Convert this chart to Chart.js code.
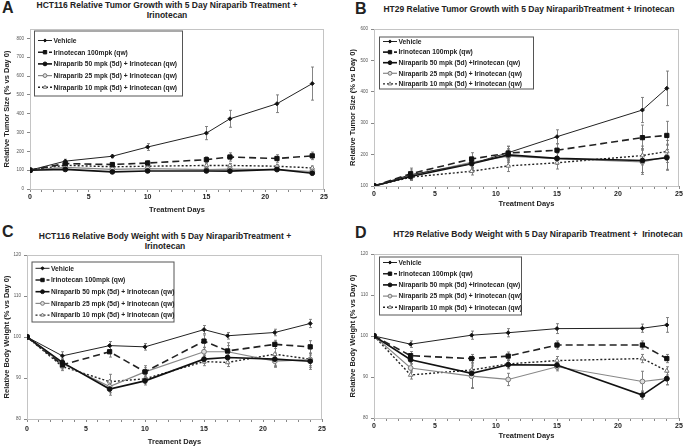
<!DOCTYPE html>
<html>
<head>
<meta charset="utf-8">
<script src="https://cdn.jsdelivr.net/npm/chart.js@4.4.0/dist/chart.umd.min.js"></script>
<style>
  body { margin: 0; background: #fff; width: 685px; height: 447px; position: relative; overflow: hidden;
         font-family: "Liberation Sans", Arial, sans-serif; color: #222; }
  canvas { position: absolute; }
  .letter { position: absolute; font-weight: bold; font-size: 16px; line-height: 16px; }
  .ttl { position: absolute; font-weight: bold; font-size: 8.5px; line-height: 9.5px; text-align: center; white-space: nowrap; }
</style>
</head>
<body>
<div class="letter" style="left:2px;top:0px">A</div>
<div class="letter" style="left:355px;top:1px">B</div>
<div class="letter" style="left:2px;top:224px">C</div>
<div class="letter" style="left:355px;top:225px">D</div>

<div class="ttl" style="left:17px;width:300px;top:1px">HCT116 Relative Tumor Growth with 5 Day Niraparib Treatment +<br>Irinotecan</div>
<div class="ttl" style="left:379px;width:300px;top:5px">HT29 Relative Tumor Growth with 5 Day NiraparibTreatment + Irinotecan</div>
<div class="ttl" style="left:15px;width:300px;top:232px">HCT116 Relative Body Weight with 5 Day NiraparibTreatment +<br>Irinotecan</div>
<div class="ttl" style="left:388px;width:300px;top:230px">HT29 Relative Body Weight with 5 Day Niraparib Treatment +&nbsp; Irinotecan</div>

<canvas id="chartA" width="340" height="200" style="left:0;top:20px"></canvas>
<canvas id="chartB" width="345" height="200" style="left:340px;top:20px"></canvas>
<canvas id="chartC" width="340" height="199" style="left:0;top:248px"></canvas>
<canvas id="chartD" width="345" height="199" style="left:340px;top:248px"></canvas>

<script>
// ---- data ----
const labelsAC = ['Vehicle', 'Irinotecan 100mpk (qw)', 'Niraparib 50 mpk (5d) + Irinotecan (qw)',
                  'Niraparib 25 mpk (5d) + Irinotecan (qw)', 'Niraparib 10 mpk (5d) + Irinotecan (qw)'];
const labelsBD = ['Vehicle', 'Irinotecan 100mpk (qw)', 'Niraparib 50 mpk (5d) +Irinotecan (qw)',
                  'Niraparib 25 mpk (5d) + Irinotecan (qw)', 'Niraparib 10 mpk (5d) + Irinotecan (qw)'];

// A: HCT116 tumor size
const daysA = [0, 3, 7, 10, 15, 17, 21, 24];
const vehicleA = [100, 148, 174, 223, 297, 373, 453, 560];
const irinoA   = [100, 135, 130, 138, 156, 170, 162, 176];
const nir50A   = [100, 104, 91, 96, 96, 95, 104, 84];
const nir25A   = [100, 115, 104, 108, 103, 106, 103, 93];
const nir10A   = [100, 126, 118, 121, 125, 125, 121, 112];
const vehicleAErr = [0, 10, 8, 18, 35, 45, 47, 88];
const irinoAErr   = [0, 12, 10, 12, 15, 22, 20, 20];
const nir50AErr   = [0, 8, 8, 8, 8, 8, 8, 8];
const nir25AErr   = [0, 8, 8, 8, 8, 10, 8, 8];
const nir10AErr   = [0, 8, 8, 8, 8, 10, 8, 10];

// B: HT29 tumor size
const daysB = [0, 3, 8, 11, 15, 22, 24];
const vehicleB = [100, 136, 171, 206, 257, 342, 411];
const irinoB   = [100, 139, 186, 205, 214, 254, 261];
const nir50B   = [100, 130, 171, 199, 188, 181, 190];
const nir25B   = [100, 133, 175, 195, 187, 177, 193];
const nir10B   = [100, 128, 147, 164, 174, 197, 210];
const vehicleBErr = [0, 15, 18, 20, 22, 40, 55];
const irinoBErr   = [0, 18, 20, 22, 20, 40, 45];
const nir50BErr   = [0, 12, 15, 20, 18, 38, 40];
const nir25BErr   = [0, 12, 15, 20, 18, 40, 40];
const nir10BErr   = [0, 10, 12, 18, 20, 30, 35];

// C: HCT116 body weight
const daysC = [0, 3, 7, 10, 15, 17, 21, 24];
const vehicleC = [100, 95.4, 97.9, 97.6, 101.8, 100.3, 101.1, 103.3];
const irinoC   = [100, 93.2, 96.4, 91.5, 99.0, 96.6, 98.2, 97.6];
const nir50C   = [100, 93.8, 87.3, 89.3, 94.6, 95.0, 94.6, 94.1];
const nir25C   = [100, 93.5, 87.9, 91.5, 96.4, 96.4, 94.1, 94.5];
const nir10C   = [100, 92.8, 89.1, 89.8, 94.0, 93.8, 95.8, 94.6];
const vehicleCErr = [0, 1.0, 1.0, 0.8, 1.0, 0.8, 0.8, 1.0];
const irinoCErr   = [0, 1.0, 1.3, 1.5, 1.5, 2.0, 1.0, 1.5];
const nir50CErr   = [0, 1.0, 1.5, 1.0, 1.0, 1.5, 1.5, 1.5];
const nir25CErr   = [0, 1.0, 1.5, 1.0, 1.0, 1.5, 1.5, 1.5];
const nir10CErr   = [0, 1.0, 1.8, 1.0, 1.0, 1.0, 3.0, 2.5];

// D: HT29 body weight
const daysD = [0, 3, 8, 11, 15, 22, 24];
const vehicleD = [100, 98.0, 100.2, 100.8, 101.8, 101.9, 102.7];
const irinoD   = [100, 95.2, 94.5, 95.1, 97.8, 97.8, 94.5];
const nir50D   = [100, 94.2, 90.9, 93.0, 92.9, 85.6, 89.6];
const nir25D   = [100, 92.2, 90.2, 89.4, 92.5, 88.9, 89.6];
const nir10D   = [100, 90.5, 91.7, 93.2, 94.0, 94.5, 91.5];
const vehicleDErr = [0, 0.8, 1.0, 1.0, 1.2, 1.0, 1.8];
const irinoDErr   = [0, 1.0, 1.0, 1.0, 1.0, 1.0, 1.0];
const nir50DErr   = [0, 1.0, 3.5, 1.0, 1.0, 1.0, 1.5];
const nir25DErr   = [0, 1.0, 3.0, 1.5, 1.0, 2.5, 1.5];
const nir10DErr   = [0, 1.0, 1.0, 1.0, 1.0, 1.0, 1.0];

// ---- styles ----
const seriesStyles = [
  { color: '#222', width: 1,   dash: [],     point: 'rectRot',  r: 2.0, fill: '#111', stroke: '#111' },
  { color: '#222', width: 1.6, dash: [7, 4], point: 'rect',     r: 3.0, fill: '#111', stroke: '#111' },
  { color: '#111', width: 1.6, dash: [],     point: 'circle',   r: 2.4, fill: '#111', stroke: '#111' },
  { color: '#888', width: 1.2, dash: [],     point: 'circle',   r: 2.4, fill: '#ddd', stroke: '#777' },
  { color: '#222', width: 1.4, dash: [2, 2], point: 'triangle', r: 2.6, fill: '#fff', stroke: '#777' }
];

const panelPlugin = {
  id: 'panel',
  beforeDatasetsDraw(chart) {
    const { ctx, chartArea: a, scales: { x, y } } = chart;
    ctx.save();
    ctx.strokeStyle = '#c4c4c4';
    ctx.lineWidth = 1;
    ctx.strokeRect(a.left + 0.5, a.top + 0.5, a.width - 1, a.height);
    chart.data.datasets.forEach(ds => {
      ctx.strokeStyle = '#777';
      ctx.lineWidth = 0.9;
      ds.data.forEach((p, i) => {
        const e = ds.err[i];
        if (!e) return;
        const px = Math.round(x.getPixelForValue(p.x)) + 0.5;
        const y1 = y.getPixelForValue(p.y + e), y2 = y.getPixelForValue(p.y - e);
        ctx.beginPath();
        ctx.moveTo(px, y1); ctx.lineTo(px, y2);
        ctx.moveTo(px - 1.5, y1); ctx.lineTo(px + 1.5, y1);
        ctx.moveTo(px - 1.5, y2); ctx.lineTo(px + 1.5, y2);
        ctx.stroke();
      });
    });
    ctx.restore();
  },
  afterDraw(chart, args, opts) {
    const { ctx } = chart;
    const [bx, by, bw, bh] = opts.box;
    ctx.save();
    ctx.fillStyle = '#fff';
    ctx.fillRect(bx, by, bw, bh);
    ctx.strokeStyle = '#555';
    ctx.lineWidth = 1;
    ctx.strokeRect(bx + 0.5, by + 0.5, bw, bh);
    ctx.font = 'bold 6.7px "Liberation Sans", Arial, sans-serif';
    ctx.textBaseline = 'middle';
    chart.data.datasets.forEach((ds, i) => {
      const yy = by + opts.first + i * opts.step;
      ctx.strokeStyle = ds.borderColor;
      ctx.lineWidth = ds.borderWidth;
      ctx.setLineDash(ds.borderDash);
      ctx.beginPath();
      ctx.moveTo(bx + 4, yy); ctx.lineTo(bx + 18, yy);
      ctx.stroke();
      ctx.setLineDash([]);
      ctx.fillStyle = ds.pointBackgroundColor;
      ctx.strokeStyle = ds.pointBorderColor;
      ctx.lineWidth = 1;
      Chart.helpers.drawPoint(ctx, { pointStyle: ds.pointStyle, rotation: 0, radius: ds.pointRadius * 0.8, borderWidth: 1 }, bx + 11, yy);
      ctx.fillStyle = '#222';
      ctx.fillText(ds.label, bx + 19.5, yy + 0.5);
    });
    ctx.restore();
  }
};

function makeChart(id, p) {
  const datasets = p.values.map((vals, i) => {
    const s = seriesStyles[i];
    return {
      label: p.labels[i],
      data: p.days.map((d, j) => ({ x: d, y: vals[j] })),
      err: p.errs[i],
      borderColor: s.color, borderWidth: s.width, borderDash: s.dash,
      pointStyle: s.point, pointRadius: s.r, pointBackgroundColor: s.fill,
      pointBorderColor: s.stroke, pointBorderWidth: 1, tension: 0, fill: false
    };
  });
  return new Chart(document.getElementById(id), {
    type: 'line',
    data: { datasets },
    options: {
      responsive: false, animation: false, devicePixelRatio: 1,
      layout: { padding: { left: 0, top: p.padTop, right: p.padRight, bottom: 0 } },
      plugins: { legend: { display: false }, tooltip: { enabled: false }, panel: p.legend },
      scales: {
        x: {
          type: 'linear', min: 0, max: 25,
          afterFit: s => { s.height = p.xh; s.paddingLeft = 0; s.paddingRight = 0; },
          border: { color: '#888' },
          grid: { drawOnChartArea: false, tickLength: 3, color: '#888' },
          ticks: { stepSize: 1, autoSkip: false, maxRotation: 0, padding: p.xTickPad, color: '#222',
                   font: { size: 7, weight: 'bold' }, callback: v => (v % 5 === 0 ? v : '') },
          title: { display: true, text: p.xTitle, color: '#222', font: { size: 7.5, weight: 'bold' },
                   padding: { top: 0, bottom: p.xTitlePad } }
        },
        y: {
          min: p.yMin, max: p.yMax,
          afterFit: s => { s.width = p.yw; s.paddingTop = 0; s.paddingBottom = 0; },
          afterBuildTicks: s => { s.ticks = s.ticks.filter(t => (t.value - p.yMin) % p.yStep === 0); },
          border: { color: '#888' },
          grid: { drawOnChartArea: false, tickLength: 3, color: '#888' },
          ticks: { stepSize: p.yStep, padding: 3, color: '#555', font: { size: 4.5 } },
          title: { display: true, text: p.yTitle, color: '#222', font: { size: 7.5, weight: 'bold' },
                   padding: { top: p.yTitlePad, bottom: 0 } }
        }
      }
    },
    plugins: [panelPlugin]
  });
}

makeChart('chartA', {
  days: daysA, labels: labelsAC,
  values: [vehicleA, irinoA, nir50A, nir25A, nir10A],
  errs: [vehicleAErr, irinoAErr, nir50AErr, nir25AErr, nir10AErr],
  yMin: 0, yMax: 850, yStep: 100, yTitle: 'Relative Tumor Size (% vs Day 0)', xTitle: 'Treatment Days',
  padTop: 9, padRight: 16, yw: 30, xh: 31, xTickPad: 1, xTitlePad: 6, yTitlePad: 2.5,
  legend: { box: [34, 10.5, 148, 65], first: 10, step: 11.7 }
});
makeChart('chartB', {
  days: daysB, labels: labelsBD,
  values: [vehicleB, irinoB, nir50B, nir25B, nir10B],
  errs: [vehicleBErr, irinoBErr, nir50BErr, nir25BErr, nir10BErr],
  yMin: 100, yMax: 600, yStep: 100, yTitle: 'Relative Tumor Size (% vs Day 0)', xTitle: 'Treatment Days',
  padTop: 9, padRight: 6, yw: 34, xh: 34, xTickPad: 1, xTitlePad: 11.5, yTitlePad: 8.5,
  legend: { box: [39, 16.5, 154, 52], first: 5, step: 10.6 }
});
makeChart('chartC', {
  days: daysC, labels: labelsAC,
  values: [vehicleC, irinoC, nir50C, nir25C, nir10C],
  errs: [vehicleCErr, irinoCErr, nir50CErr, nir25CErr, nir10CErr],
  yMin: 80, yMax: 120, yStep: 10, yTitle: 'Relative Body Weight (% vs Day 0)', xTitle: 'Treament Days',
  padTop: 7, padRight: 18, yw: 27, xh: 28, xTickPad: 3, xTitlePad: 1, yTitlePad: 2.5,
  legend: { box: [31.5, 13.5, 142, 60], first: 6.8, step: 11.7 }
});
makeChart('chartD', {
  days: daysD, labels: labelsBD,
  values: [vehicleD, irinoD, nir50D, nir25D, nir10D],
  errs: [vehicleDErr, irinoDErr, nir50DErr, nir25DErr, nir10DErr],
  yMin: 80, yMax: 120, yStep: 10, yTitle: 'Relative Body Weight (% vs Day 0)', xTitle: 'Treatment Days',
  padTop: 6, padRight: 6, yw: 34, xh: 29, xTickPad: 1, xTitlePad: 6.5, yTitlePad: 8.5,
  legend: { box: [39, 8.5, 142, 58], first: 6, step: 11.2 }
});
</script>
</body>
</html>
